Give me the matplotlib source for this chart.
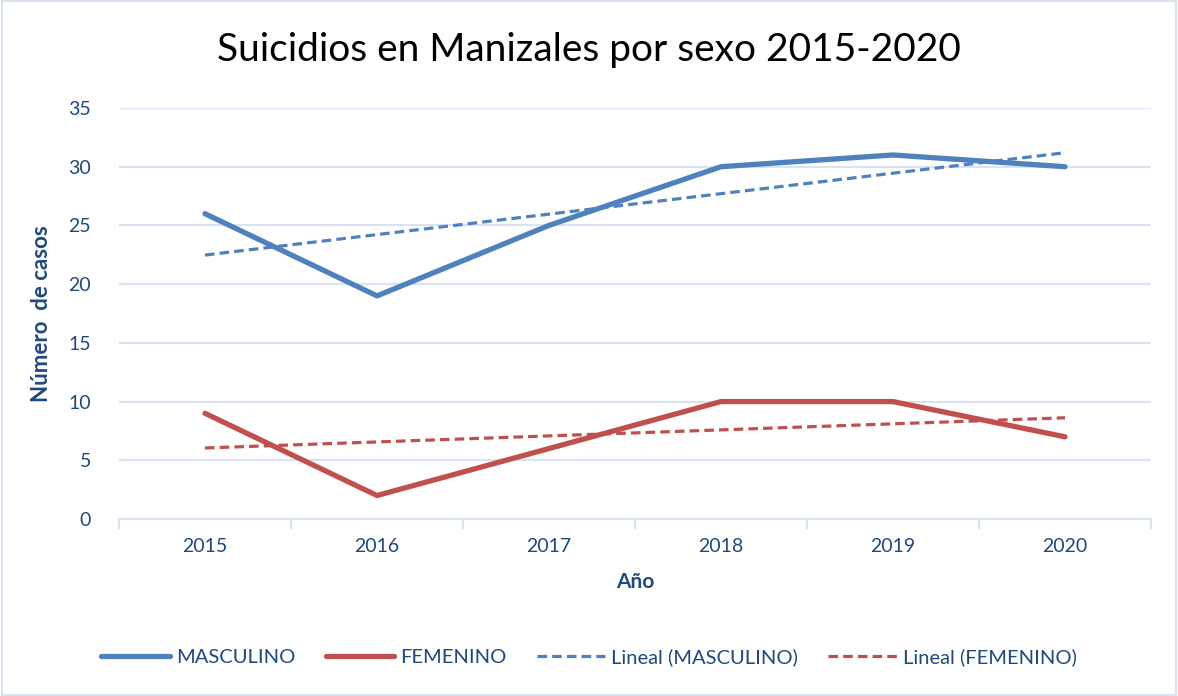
import matplotlib.pyplot as plt
from matplotlib.patches import Rectangle
import numpy as np

# datos
anios = ['2015', '2016', '2017', '2018', '2019', '2020']
masculino = [26, 19, 25, 30, 31, 30]
femenino = [9, 2, 6, 10, 10, 7]

azul = '#4F81BD'
rojo = '#C0504D'
texto = '#1F497D'
grid_col = '#D9E3F1'

plt.rcParams['font.family'] = ['Lato', 'DejaVu Sans']

fig = plt.figure(figsize=(11.78, 6.96), dpi=100)
ax = fig.add_axes([119 / 1178, 1 - 519 / 696, (1151 - 119) / 1178, (519 - 108) / 696])

x = np.arange(len(anios))

# lineas de tendencia (regresion lineal)
pm = np.polyfit(x, masculino, 1)
pf = np.polyfit(x, femenino, 1)

ax.plot(x, masculino, color=azul, lw=3.8, solid_capstyle='round', label='MASCULINO', zorder=4)
ax.plot(x, femenino, color=rojo, lw=3.8, solid_capstyle='round', label='FEMENINO', zorder=4)
ax.plot(x, np.polyval(pm, x), color=azul, lw=2.3, ls=(0, (3, 1.6)), label='Lineal (MASCULINO)', zorder=3)
ax.plot(x, np.polyval(pf, x), color=rojo, lw=2.3, ls=(0, (3, 1.6)), label='Lineal (FEMENINO)', zorder=3)

ax.set_xlim(-0.5, 5.5)
ax.set_ylim(0, 35)
ax.set_yticks(range(0, 36, 5))
ax.set_xticks(x)
ax.set_xticklabels(anios)
ax.set_xticks(np.arange(-0.5, 6, 1), minor=True)
ax.tick_params(axis='x', which='major', length=0, pad=14, labelsize=14, colors=texto)
ax.tick_params(axis='x', which='minor', length=7, width=1.5, color=grid_col, direction='out')
ax.tick_params(axis='y', length=0, pad=20, labelsize=14, colors=texto)

ax.grid(axis='y', color=grid_col, lw=1.5)
ax.set_axisbelow(True)
for s in ['top', 'right', 'left']:
    ax.spines[s].set_visible(False)
ax.spines['bottom'].set_color(grid_col)
ax.spines['bottom'].set_linewidth(1.5)

ax.set_xlabel('Año', fontsize=15, fontweight='bold', color=texto, labelpad=12)
ax.set_ylabel('Número  de casos', fontsize=16, fontweight='bold', color=texto, labelpad=12)

fig.text(0.5, 1 - 50 / 696, 'Suicidios en Manizales por sexo 2015-2020', ha='center', va='center',
         fontsize=28, color='black')

fig.legend(loc='center', bbox_to_anchor=(0.5, 1 - 657 / 696), ncol=4, frameon=False,
           fontsize=14.5, labelcolor=texto, handlelength=3.4, handletextpad=0.3, columnspacing=1.5)

# borde del grafico
fig.patches.append(Rectangle((0.002, 0.002), 0.996, 0.996, transform=fig.transFigure,
                             fill=False, edgecolor=grid_col, lw=1.5))

fig.savefig('out.png', dpi=100)
